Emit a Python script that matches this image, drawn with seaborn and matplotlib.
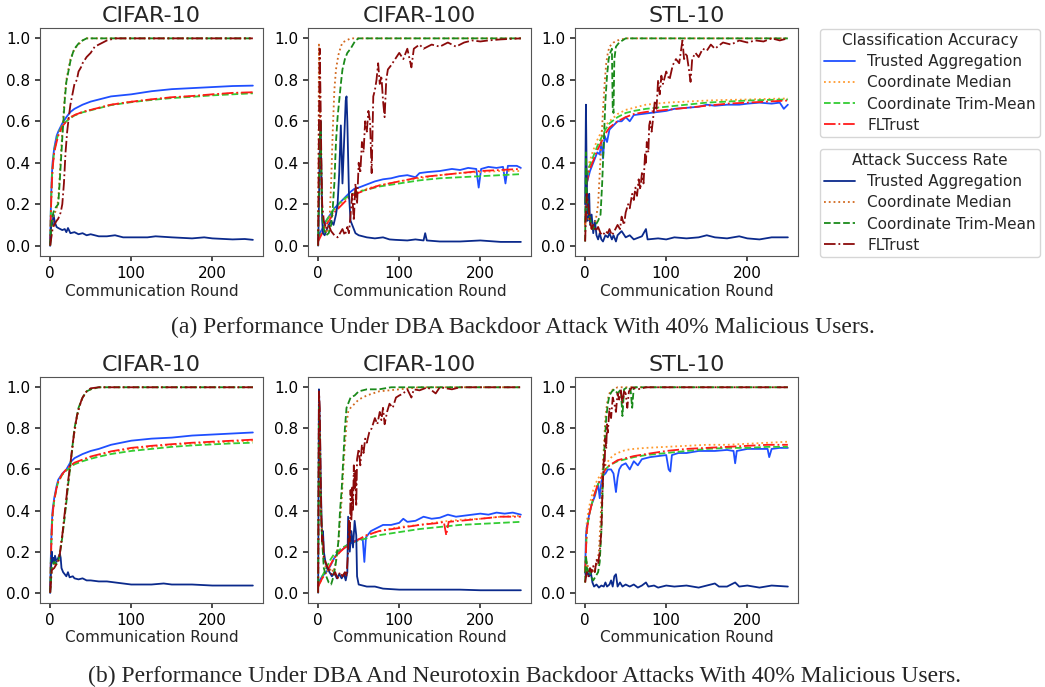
import matplotlib
matplotlib.use("Agg")
import matplotlib.pyplot as plt
from matplotlib.lines import Line2D
import seaborn as sns
import pandas as pd

# Values, as (communication round, value) pairs.
# acc_* = classification accuracy, asr_* = attack success rate
# ta = Trusted Aggregation, cm = Coordinate Median, ctm = Coordinate Trim-Mean, flt = FLTrust

# ---- (a) DBA backdoor attack ----
a_c10_acc_ta = [(0, 0.0), (1, 0.2), (2, 0.33), (3, 0.4), (5, 0.47), (8, 0.53), (10, 0.55), (15, 0.59), (20, 0.62),
                (25, 0.645), (30, 0.66), (40, 0.68), (50, 0.695), (60, 0.705), (75, 0.72), (100, 0.73), (125, 0.745),
                (150, 0.755), (175, 0.76), (200, 0.765), (225, 0.77), (250, 0.772)]
a_c10_acc_cm = [(0, 0.0), (1, 0.18), (2, 0.3), (3, 0.38), (5, 0.45), (8, 0.51), (10, 0.54), (15, 0.58), (20, 0.605),
                (25, 0.62), (30, 0.63), (40, 0.645), (50, 0.655), (60, 0.665), (75, 0.68), (100, 0.695), (125, 0.705),
                (150, 0.715), (175, 0.72), (200, 0.728), (225, 0.735), (250, 0.738)]
a_c10_acc_ctm = [(0, 0.0), (1, 0.19), (2, 0.31), (3, 0.38), (5, 0.46), (8, 0.51), (10, 0.54), (15, 0.58), (20, 0.6),
                 (25, 0.615), (30, 0.628), (40, 0.643), (50, 0.653), (60, 0.663), (75, 0.678), (100, 0.692), (125, 0.703),
                 (150, 0.712), (175, 0.718), (200, 0.725), (225, 0.73), (250, 0.735)]
a_c10_acc_flt = [(0, 0.0), (1, 0.17), (2, 0.29), (3, 0.37), (5, 0.45), (8, 0.5), (10, 0.53), (15, 0.575), (20, 0.6),
                 (25, 0.618), (30, 0.63), (40, 0.645), (50, 0.655), (60, 0.665), (75, 0.68), (100, 0.694), (125, 0.706),
                 (150, 0.716), (175, 0.722), (200, 0.73), (225, 0.737), (250, 0.74)]
a_c10_asr_ta = [(0, 0.0), (1, 0.08), (2, 0.12), (3, 0.1), (4, 0.15), (5, 0.13), (6, 0.11), (8, 0.09), (10, 0.085),
                (15, 0.075), (18, 0.08), (20, 0.065), (22, 0.085), (25, 0.06), (30, 0.065), (35, 0.055), (40, 0.06),
                (45, 0.05), (50, 0.055), (60, 0.045), (70, 0.045), (80, 0.05), (90, 0.04), (100, 0.04), (120, 0.04),
                (130, 0.045), (150, 0.04), (175, 0.035), (190, 0.04), (200, 0.035), (225, 0.03), (240, 0.032),
                (250, 0.028)]
a_c10_asr_cm = [(0, 0.0), (2, 0.1), (4, 0.14), (6, 0.16), (8, 0.18), (10, 0.22), (12, 0.35), (15, 0.55), (18, 0.72),
                (20, 0.8), (22, 0.84), (25, 0.9), (28, 0.93), (30, 0.95), (35, 0.97), (40, 0.99), (45, 1.0), (250, 1.0)]
a_c10_asr_ctm = [(0, 0.0), (2, 0.12), (4, 0.16), (6, 0.18), (8, 0.19), (10, 0.2), (12, 0.32), (15, 0.52), (18, 0.7),
                 (20, 0.79), (22, 0.83), (25, 0.89), (28, 0.93), (30, 0.95), (35, 0.975), (40, 0.99), (45, 1.0), (250, 1.0)]
a_c10_asr_flt = [(0, 0.0), (3, 0.08), (5, 0.1), (8, 0.12), (10, 0.13), (13, 0.16), (15, 0.2), (17, 0.3), (19, 0.45),
                 (21, 0.55), (23, 0.62), (25, 0.68), (28, 0.74), (30, 0.78), (33, 0.8), (35, 0.84), (38, 0.86), (40, 0.88),
                 (45, 0.91), (50, 0.93), (55, 0.96), (60, 0.97), (65, 0.98), (70, 0.99), (80, 1.0), (250, 1.0)]

a_c100_acc_ta = [(0, 0.03), (2, 0.06), (5, 0.08), (10, 0.12), (15, 0.15), (20, 0.18), (25, 0.2), (30, 0.22), (35, 0.24),
                 (40, 0.26), (45, 0.275), (50, 0.28), (60, 0.295), (70, 0.31), (80, 0.32), (90, 0.325), (100, 0.335),
                 (110, 0.34), (120, 0.33), (125, 0.35), (135, 0.355), (150, 0.36), (165, 0.37), (175, 0.365),
                 (185, 0.375), (195, 0.37), (198, 0.28), (201, 0.37), (210, 0.38), (220, 0.375), (228, 0.38),
                 (231, 0.3), (234, 0.385), (245, 0.385), (250, 0.375)]
a_c100_acc_cm = [(0, 0.03), (5, 0.07), (10, 0.11), (20, 0.17), (30, 0.21), (40, 0.24), (50, 0.26), (60, 0.275),
                 (75, 0.29), (100, 0.31), (125, 0.325), (150, 0.34), (175, 0.35), (200, 0.355), (225, 0.36), (250, 0.36)]
a_c100_acc_ctm = [(0, 0.03), (5, 0.07), (10, 0.12), (20, 0.18), (30, 0.22), (40, 0.245), (50, 0.26), (60, 0.27),
                  (75, 0.285), (100, 0.3), (125, 0.315), (150, 0.325), (175, 0.33), (200, 0.335), (225, 0.34),
                  (250, 0.345)]
a_c100_acc_flt = [(0, 0.02), (5, 0.06), (10, 0.1), (20, 0.16), (30, 0.2), (40, 0.24), (50, 0.255), (60, 0.27),
                  (75, 0.29), (100, 0.31), (125, 0.33), (150, 0.34), (175, 0.35), (200, 0.36), (225, 0.365), (250, 0.37)]
a_c100_asr_ta = [(0, 0.0), (1, 0.2), (2, 0.45), (3, 0.6), (4, 0.35), (5, 0.12), (6, 0.06), (8, 0.05), (10, 0.07),
                 (13, 0.1), (16, 0.12), (19, 0.1), (22, 0.15), (24, 0.2), (26, 0.35), (28, 0.58), (30, 0.3), (32, 0.5),
                 (34, 0.7), (35, 0.72), (36, 0.6), (38, 0.25), (40, 0.12), (43, 0.09), (46, 0.06), (50, 0.05),
                 (55, 0.045), (60, 0.04), (70, 0.035), (80, 0.04), (88, 0.03), (95, 0.028), (110, 0.025), (120, 0.03),
                 (130, 0.025), (132, 0.06), (134, 0.025), (150, 0.02), (175, 0.02), (200, 0.025), (225, 0.018),
                 (250, 0.018)]
a_c100_asr_cm = [(0, 0.0), (1, 0.97), (2, 0.75), (3, 0.4), (5, 0.15), (8, 0.08), (11, 0.06), (14, 0.12), (16, 0.3),
                 (18, 0.55), (20, 0.75), (22, 0.85), (25, 0.92), (28, 0.96), (30, 0.98), (35, 0.99), (40, 1.0),
                 (250, 1.0)]
a_c100_asr_ctm = [(0, 0.0), (1, 0.3), (2, 0.5), (3, 0.6), (4, 0.35), (5, 0.15), (7, 0.08), (10, 0.05), (13, 0.06),
                  (16, 0.1), (18, 0.18), (20, 0.3), (22, 0.5), (24, 0.62), (26, 0.7), (28, 0.78), (30, 0.85), (33, 0.9),
                  (36, 0.93), (40, 0.95), (43, 0.97), (46, 0.99), (50, 1.0), (250, 1.0)]
a_c100_asr_flt = [(0, 0.0), (1, 0.6), (2, 0.95), (3, 0.7), (4, 0.4), (5, 0.2), (7, 0.12), (10, 0.08), (13, 0.1),
                  (16, 0.07), (20, 0.05), (24, 0.04), (27, 0.06), (30, 0.08), (33, 0.05), (36, 0.09), (38, 0.06),
                  (40, 0.15), (42, 0.25), (44, 0.12), (46, 0.3), (48, 0.2), (50, 0.4), (52, 0.35), (54, 0.5), (56, 0.45),
                  (58, 0.6), (60, 0.55), (62, 0.65), (64, 0.6), (66, 0.35), (68, 0.72), (70, 0.75), (72, 0.8),
                  (74, 0.88), (76, 0.78), (78, 0.82), (80, 0.7), (82, 0.62), (84, 0.8), (86, 0.85), (90, 0.87),
                  (95, 0.9), (100, 0.93), (105, 0.9), (110, 0.95), (115, 0.86), (118, 0.95), (125, 0.97), (130, 0.95),
                  (140, 0.97), (150, 0.96), (160, 0.98), (170, 0.96), (180, 0.98), (190, 0.99), (200, 0.985),
                  (210, 0.99), (225, 0.995), (250, 1.0)]

a_stl_acc_ta = [(0, 0.1), (1, 0.25), (2, 0.3), (4, 0.33), (6, 0.36), (8, 0.38), (10, 0.4), (13, 0.43), (15, 0.45),
                (18, 0.44), (20, 0.5), (22, 0.42), (24, 0.53), (27, 0.5), (30, 0.56), (35, 0.58), (40, 0.6), (45, 0.6),
                (50, 0.62), (55, 0.6), (60, 0.63), (70, 0.635), (80, 0.64), (90, 0.645), (100, 0.65), (110, 0.66),
                (125, 0.665), (140, 0.67), (150, 0.68), (160, 0.675), (175, 0.68), (190, 0.68), (200, 0.685),
                (215, 0.69), (230, 0.685), (240, 0.69), (245, 0.66), (250, 0.68)]
a_stl_acc_cm = [(0, 0.1), (2, 0.33), (5, 0.4), (10, 0.46), (15, 0.51), (20, 0.55), (25, 0.58), (30, 0.6), (40, 0.635),
                (50, 0.655), (60, 0.665), (75, 0.68), (100, 0.69), (125, 0.695), (150, 0.7), (175, 0.703), (200, 0.705),
                (225, 0.708), (250, 0.71)]
a_stl_acc_ctm = [(0, 0.1), (2, 0.32), (5, 0.38), (10, 0.43), (15, 0.48), (20, 0.52), (25, 0.56), (30, 0.59), (40, 0.62),
                 (50, 0.64), (60, 0.65), (75, 0.66), (100, 0.67), (125, 0.68), (150, 0.69), (175, 0.695), (200, 0.7),
                 (225, 0.703), (250, 0.705)]
a_stl_acc_flt = [(0, 0.1), (2, 0.3), (5, 0.36), (10, 0.41), (15, 0.46), (20, 0.5), (25, 0.54), (30, 0.57), (40, 0.6),
                 (50, 0.62), (60, 0.635), (75, 0.645), (100, 0.655), (125, 0.665), (150, 0.675), (175, 0.685),
                 (200, 0.69), (225, 0.695), (250, 0.7)]
a_stl_asr_ta = [(0, 0.2), (1, 0.68), (2, 0.3), (3, 0.12), (4, 0.2), (5, 0.25), (6, 0.1), (8, 0.15), (10, 0.06),
                (12, 0.12), (14, 0.05), (16, 0.03), (18, 0.06), (20, 0.03), (22, 0.02), (25, 0.05), (28, 0.04),
                (30, 0.06), (33, 0.03), (35, 0.05), (38, 0.02), (40, 0.05), (45, 0.07), (50, 0.04), (55, 0.05),
                (60, 0.03), (70, 0.045), (75, 0.08), (77, 0.03), (90, 0.035), (100, 0.03), (110, 0.04), (125, 0.035),
                (140, 0.04), (150, 0.05), (160, 0.04), (175, 0.035), (190, 0.045), (200, 0.035), (215, 0.03),
                (230, 0.04), (250, 0.04)]
a_stl_asr_cm = [(0, 0.1), (2, 0.15), (5, 0.12), (8, 0.08), (10, 0.1), (13, 0.12), (16, 0.2), (18, 0.35), (20, 0.5),
                (22, 0.65), (24, 0.78), (26, 0.88), (28, 0.93), (30, 0.96), (35, 0.98), (40, 0.99), (50, 1.0), (250, 1.0)]
a_stl_asr_ctm = [(0, 0.02), (1, 0.45), (2, 0.25), (3, 0.2), (5, 0.15), (8, 0.1), (10, 0.08), (13, 0.1), (16, 0.12),
                 (19, 0.15), (21, 0.3), (23, 0.5), (25, 0.7), (27, 0.82), (29, 0.9), (31, 0.93), (33, 0.95), (34, 0.66),
                 (35, 0.64), (36, 0.9), (38, 0.96), (42, 0.98), (46, 0.99), (50, 1.0), (250, 1.0)]
a_stl_asr_flt = [(0, 0.02), (1, 0.15), (2, 0.25), (4, 0.2), (6, 0.12), (8, 0.08), (10, 0.1), (13, 0.07), (16, 0.09),
                 (19, 0.06), (22, 0.05), (25, 0.07), (28, 0.06), (30, 0.08), (33, 0.05), (36, 0.07), (40, 0.1),
                 (43, 0.08), (45, 0.14), (48, 0.1), (50, 0.16), (53, 0.2), (55, 0.18), (58, 0.25), (60, 0.22),
                 (62, 0.28), (64, 0.24), (66, 0.32), (68, 0.27), (70, 0.35), (72, 0.3), (74, 0.45), (75, 0.4),
                 (76, 0.5), (78, 0.45), (79, 0.58), (80, 0.6), (82, 0.55), (84, 0.62), (86, 0.7), (88, 0.66),
                 (90, 0.8), (92, 0.73), (94, 0.82), (96, 0.78), (100, 0.84), (104, 0.8), (108, 0.87), (112, 0.9),
                 (116, 0.88), (120, 0.99), (122, 0.9), (125, 0.93), (128, 0.85), (130, 0.79), (132, 0.9), (136, 0.93),
                 (140, 0.91), (145, 0.95), (150, 0.94), (155, 0.97), (160, 0.95), (170, 0.98), (180, 0.97),
                 (190, 0.99), (200, 0.98), (210, 0.99), (220, 0.985), (230, 1.0), (240, 0.99), (250, 1.0)]

# ---- (b) DBA + Neurotoxin backdoor attacks ----
b_c10_acc_ta = [(0, 0.0), (1, 0.2), (2, 0.33), (3, 0.4), (5, 0.46), (8, 0.52), (10, 0.55), (15, 0.58), (20, 0.6),
                (25, 0.635), (30, 0.655), (40, 0.675), (50, 0.69), (60, 0.7), (75, 0.72), (100, 0.74), (125, 0.75),
                (150, 0.755), (175, 0.765), (200, 0.77), (225, 0.775), (250, 0.78)]
b_c10_acc_cm = [(0, 0.0), (1, 0.18), (2, 0.3), (3, 0.38), (5, 0.45), (8, 0.51), (10, 0.54), (15, 0.575), (20, 0.6),
                (25, 0.615), (30, 0.63), (40, 0.645), (50, 0.66), (60, 0.67), (75, 0.685), (100, 0.7), (125, 0.71),
                (150, 0.72), (175, 0.725), (200, 0.73), (225, 0.735), (250, 0.74)]
b_c10_acc_ctm = [(0, 0.0), (1, 0.19), (2, 0.31), (3, 0.38), (5, 0.45), (8, 0.51), (10, 0.54), (15, 0.575), (20, 0.595),
                 (25, 0.61), (30, 0.625), (40, 0.64), (50, 0.652), (60, 0.662), (75, 0.675), (100, 0.69), (125, 0.7),
                 (150, 0.71), (175, 0.717), (200, 0.722), (225, 0.727), (250, 0.73)]
b_c10_acc_flt = [(0, 0.0), (1, 0.17), (2, 0.3), (3, 0.38), (5, 0.45), (8, 0.51), (10, 0.54), (15, 0.578), (20, 0.6),
                 (25, 0.618), (30, 0.633), (40, 0.648), (50, 0.663), (60, 0.673), (75, 0.688), (100, 0.705),
                 (125, 0.715), (150, 0.723), (175, 0.73), (200, 0.735), (225, 0.74), (250, 0.745)]
b_c10_asr_ta = [(0, 0.0), (1, 0.1), (2, 0.2), (3, 0.15), (4, 0.17), (5, 0.14), (6, 0.18), (8, 0.15), (10, 0.17),
                (12, 0.19), (13, 0.17), (14, 0.12), (16, 0.1), (18, 0.09), (20, 0.08), (22, 0.1), (24, 0.075),
                (28, 0.08), (30, 0.07), (35, 0.065), (40, 0.07), (45, 0.06), (50, 0.06), (60, 0.055), (70, 0.055),
                (80, 0.05), (90, 0.045), (100, 0.04), (125, 0.04), (140, 0.045), (150, 0.04), (175, 0.04),
                (200, 0.035), (225, 0.035), (250, 0.035)]
b_c10_asr_cm = [(0, 0.0), (2, 0.12), (5, 0.13), (8, 0.15), (10, 0.16), (12, 0.2), (15, 0.28), (18, 0.38), (20, 0.45),
                (22, 0.52), (25, 0.62), (28, 0.72), (30, 0.78), (33, 0.85), (35, 0.89), (38, 0.93), (40, 0.95),
                (45, 0.98), (50, 0.99), (60, 1.0), (250, 1.0)]
b_c10_asr_ctm = [(0, 0.0), (2, 0.13), (5, 0.15), (8, 0.14), (10, 0.15), (12, 0.19), (15, 0.27), (18, 0.37),
                 (20, 0.44), (22, 0.52), (25, 0.62), (28, 0.73), (30, 0.8), (33, 0.86), (35, 0.9), (38, 0.93),
                 (40, 0.95), (45, 0.98), (50, 0.99), (60, 1.0), (250, 1.0)]
b_c10_asr_flt = [(0, 0.0), (2, 0.11), (5, 0.12), (8, 0.14), (10, 0.15), (12, 0.19), (15, 0.28), (18, 0.39),
                 (20, 0.46), (22, 0.54), (25, 0.63), (28, 0.73), (30, 0.79), (33, 0.86), (35, 0.89), (38, 0.93),
                 (40, 0.95), (45, 0.98), (50, 0.995), (60, 1.0), (250, 1.0)]

b_c100_acc_ta = [(0, 0.05), (2, 0.06), (5, 0.08), (10, 0.1), (15, 0.13), (20, 0.17), (25, 0.2), (30, 0.21), (35, 0.23),
                 (40, 0.24), (45, 0.25), (50, 0.26), (55, 0.26), (57, 0.15), (59, 0.27), (65, 0.3), (70, 0.31),
                 (75, 0.32), (80, 0.33), (90, 0.33), (100, 0.34), (105, 0.36), (110, 0.345), (120, 0.35), (130, 0.37),
                 (140, 0.36), (150, 0.365), (160, 0.38), (170, 0.37), (180, 0.375), (190, 0.38), (200, 0.385),
                 (210, 0.38), (220, 0.39), (230, 0.385), (240, 0.39), (250, 0.38)]
b_c100_acc_cm = [(0, 0.03), (5, 0.07), (10, 0.1), (20, 0.17), (30, 0.21), (40, 0.24), (50, 0.26), (60, 0.28), (75, 0.3),
                 (100, 0.32), (125, 0.33), (150, 0.345), (175, 0.355), (200, 0.36), (225, 0.37), (250, 0.375)]
b_c100_acc_ctm = [(0, 0.03), (5, 0.08), (10, 0.12), (15, 0.16), (20, 0.19), (30, 0.22), (40, 0.24), (50, 0.255),
                  (60, 0.265), (75, 0.28), (100, 0.295), (125, 0.31), (150, 0.32), (175, 0.33), (200, 0.335),
                  (225, 0.34), (250, 0.345)]
b_c100_acc_flt = [(0, 0.03), (5, 0.07), (10, 0.1), (20, 0.17), (30, 0.21), (40, 0.24), (50, 0.26), (60, 0.28),
                  (75, 0.3), (100, 0.315), (125, 0.33), (150, 0.34), (155, 0.345), (158, 0.28), (161, 0.345),
                  (175, 0.35), (200, 0.36), (225, 0.37), (250, 0.37)]
b_c100_asr_ta = [(0, 0.0), (1, 0.99), (2, 0.85), (3, 0.6), (4, 0.4), (5, 0.25), (6, 0.3), (7, 0.2), (9, 0.15),
                 (11, 0.12), (14, 0.1), (17, 0.08), (20, 0.1), (23, 0.07), (26, 0.09), (29, 0.07), (32, 0.09),
                 (34, 0.06), (36, 0.1), (37, 0.37), (39, 0.2), (41, 0.3), (43, 0.22), (45, 0.35), (47, 0.28),
                 (48, 0.08), (50, 0.04), (55, 0.035), (60, 0.03), (70, 0.03), (80, 0.02), (100, 0.015), (125, 0.015),
                 (150, 0.015), (175, 0.015), (200, 0.012), (225, 0.012), (250, 0.012)]
b_c100_asr_cm = [(0, 0.0), (1, 0.95), (2, 0.8), (3, 0.5), (5, 0.25), (7, 0.15), (10, 0.12), (13, 0.1), (16, 0.12),
                 (19, 0.1), (22, 0.15), (25, 0.25), (27, 0.35), (29, 0.45), (31, 0.6), (33, 0.72), (35, 0.82),
                 (37, 0.88), (40, 0.9), (45, 0.92), (50, 0.94), (60, 0.96), (75, 0.98), (100, 0.99), (125, 1.0),
                 (250, 1.0)]
b_c100_asr_ctm = [(0, 0.0), (1, 0.9), (2, 0.7), (3, 0.45), (5, 0.25), (7, 0.12), (10, 0.08), (13, 0.05), (16, 0.04),
                  (19, 0.08), (22, 0.15), (25, 0.25), (27, 0.4), (29, 0.5), (31, 0.65), (33, 0.8), (35, 0.9),
                  (38, 0.93), (40, 0.95), (45, 0.96), (50, 0.98), (60, 0.99), (75, 0.99), (90, 1.0), (250, 1.0)]
b_c100_asr_flt = [(0, 0.0), (1, 0.98), (2, 0.9), (3, 0.6), (4, 0.35), (5, 0.25), (6, 0.28), (7, 0.18), (9, 0.15),
                  (12, 0.12), (15, 0.1), (18, 0.08), (21, 0.1), (24, 0.07), (27, 0.1), (30, 0.08), (33, 0.1),
                  (35, 0.08), (37, 0.2), (38, 0.35), (39, 0.25), (40, 0.5), (41, 0.35), (42, 0.52), (43, 0.4),
                  (44, 0.62), (45, 0.5), (46, 0.6), (47, 0.42), (48, 0.65), (50, 0.7), (52, 0.62), (54, 0.72),
                  (56, 0.68), (58, 0.75), (60, 0.73), (63, 0.78), (66, 0.8), (70, 0.85), (73, 0.82), (76, 0.88),
                  (78, 0.84), (80, 0.9), (82, 0.82), (85, 0.88), (88, 0.92), (92, 0.9), (96, 0.95), (100, 0.96),
                  (105, 0.97), (110, 0.99), (115, 0.95), (118, 0.99), (125, 0.985), (135, 1.0), (145, 0.97),
                  (150, 1.0), (165, 0.99), (175, 1.0), (200, 1.0), (250, 1.0)]

b_stl_acc_ta = [(0, 0.1), (1, 0.28), (2, 0.32), (4, 0.36), (6, 0.4), (8, 0.43), (10, 0.45), (12, 0.47), (14, 0.5),
                (16, 0.53), (18, 0.46), (20, 0.54), (22, 0.57), (25, 0.58), (28, 0.6), (32, 0.6), (35, 0.58),
                (37, 0.52), (38, 0.49), (40, 0.56), (42, 0.6), (45, 0.62), (50, 0.63), (55, 0.6), (60, 0.64),
                (65, 0.62), (70, 0.65), (80, 0.66), (90, 0.665), (100, 0.67), (103, 0.6), (105, 0.59), (107, 0.67),
                (115, 0.68), (125, 0.68), (140, 0.69), (150, 0.69), (160, 0.69), (175, 0.695), (183, 0.69),
                (185, 0.63), (187, 0.69), (200, 0.7), (215, 0.7), (225, 0.7), (227, 0.66), (230, 0.7), (240, 0.705),
                (250, 0.705)]
b_stl_acc_cm = [(0, 0.1), (2, 0.35), (5, 0.42), (10, 0.5), (15, 0.55), (20, 0.58), (25, 0.62), (30, 0.65), (35, 0.67),
                (40, 0.68), (50, 0.695), (60, 0.7), (75, 0.705), (100, 0.71), (125, 0.715), (150, 0.72), (175, 0.72),
                (200, 0.725), (225, 0.73), (250, 0.735)]
b_stl_acc_ctm = [(0, 0.1), (2, 0.3), (5, 0.38), (10, 0.46), (15, 0.52), (20, 0.56), (25, 0.6), (30, 0.62), (40, 0.64),
                 (50, 0.65), (60, 0.66), (75, 0.67), (100, 0.68), (125, 0.69), (150, 0.7), (175, 0.705), (200, 0.705),
                 (225, 0.71), (250, 0.71)]
b_stl_acc_flt = [(0, 0.1), (2, 0.3), (5, 0.38), (10, 0.46), (15, 0.52), (20, 0.56), (25, 0.6), (30, 0.62), (40, 0.645),
                 (50, 0.655), (60, 0.665), (75, 0.675), (100, 0.69), (125, 0.7), (150, 0.705), (175, 0.71),
                 (200, 0.715), (225, 0.72), (250, 0.72)]
b_stl_asr_ta = [(0, 0.1), (1, 0.08), (3, 0.1), (5, 0.08), (7, 0.1), (9, 0.05), (11, 0.03), (14, 0.04), (17, 0.025),
                (20, 0.035), (23, 0.03), (25, 0.05), (27, 0.03), (30, 0.04), (32, 0.06), (34, 0.03), (36, 0.08),
                (38, 0.09), (40, 0.03), (43, 0.05), (46, 0.03), (50, 0.04), (55, 0.03), (60, 0.04), (65, 0.025),
                (70, 0.035), (75, 0.05), (78, 0.03), (85, 0.035), (90, 0.025), (100, 0.035), (110, 0.03),
                (125, 0.035), (140, 0.025), (160, 0.045), (165, 0.03), (175, 0.03), (185, 0.05), (190, 0.03),
                (200, 0.035), (215, 0.025), (230, 0.035), (250, 0.03)]
b_stl_asr_cm = [(0, 0.05), (2, 0.15), (5, 0.1), (8, 0.12), (10, 0.1), (13, 0.12), (15, 0.15), (17, 0.2), (19, 0.35),
                (21, 0.55), (23, 0.7), (25, 0.85), (27, 0.92), (29, 0.96), (31, 0.98), (35, 0.99), (40, 1.0), (250, 1.0)]
b_stl_asr_ctm = [(0, 0.05), (1, 0.18), (3, 0.1), (5, 0.12), (7, 0.08), (10, 0.06), (13, 0.08), (16, 0.1), (18, 0.15),
                 (20, 0.3), (22, 0.55), (24, 0.72), (26, 0.85), (28, 0.92), (30, 0.96), (33, 0.98), (36, 0.99),
                 (40, 0.97), (44, 0.99), (46, 0.86), (48, 0.99), (52, 1.0), (56, 0.99), (58, 0.9), (60, 1.0), (250, 1.0)]
b_stl_asr_flt = [(0, 0.05), (2, 0.1), (4, 0.08), (6, 0.12), (8, 0.1), (10, 0.13), (12, 0.1), (14, 0.16), (16, 0.14),
                 (18, 0.2), (20, 0.3), (21, 0.45), (22, 0.55), (23, 0.65), (24, 0.62), (25, 0.75), (26, 0.7),
                 (27, 0.82), (28, 0.78), (30, 0.9), (32, 0.85), (34, 0.95), (36, 0.92), (38, 0.88), (40, 0.97),
                 (42, 0.94), (44, 0.99), (46, 0.92), (48, 0.98), (50, 0.97), (52, 0.9), (54, 0.98), (58, 1.0),
                 (65, 0.99), (75, 1.0), (250, 1.0)]

titles = ["CIFAR-10", "CIFAR-100", "STL-10"]
methods = ["Trusted Aggregation", "Coordinate Median", "Coordinate Trim-Mean", "FLTrust"]
acc_colors = ["#1f4fff", "#ff9a2e", "#33cc33", "#ff1a1a"]
asr_colors = ["#0b2a8c", "#d2691e", "#1a8a1a", "#8b0a0a"]
styles = ["-", ":", "--", "-."]

panels_a = [
    [a_c10_acc_ta, a_c10_acc_cm, a_c10_acc_ctm, a_c10_acc_flt, a_c10_asr_ta, a_c10_asr_cm, a_c10_asr_ctm, a_c10_asr_flt],
    [a_c100_acc_ta, a_c100_acc_cm, a_c100_acc_ctm, a_c100_acc_flt, a_c100_asr_ta, a_c100_asr_cm, a_c100_asr_ctm, a_c100_asr_flt],
    [a_stl_acc_ta, a_stl_acc_cm, a_stl_acc_ctm, a_stl_acc_flt, a_stl_asr_ta, a_stl_asr_cm, a_stl_asr_ctm, a_stl_asr_flt],
]
panels_b = [
    [b_c10_acc_ta, b_c10_acc_cm, b_c10_acc_ctm, b_c10_acc_flt, b_c10_asr_ta, b_c10_asr_cm, b_c10_asr_ctm, b_c10_asr_flt],
    [b_c100_acc_ta, b_c100_acc_cm, b_c100_acc_ctm, b_c100_acc_flt, b_c100_asr_ta, b_c100_asr_cm, b_c100_asr_ctm, b_c100_asr_flt],
    [b_stl_acc_ta, b_stl_acc_cm, b_stl_acc_ctm, b_stl_acc_flt, b_stl_asr_ta, b_stl_asr_cm, b_stl_asr_ctm, b_stl_asr_flt],
]

sns.set_theme(style="ticks", rc={
    "axes.edgecolor": "#555555",
    "axes.linewidth": 0.8,
    "xtick.color": "#333333",
    "ytick.color": "#333333",
    "xtick.labelcolor": "black",
    "ytick.labelcolor": "black",
    "xtick.labelsize": 11,
    "ytick.labelsize": 11,
    "xtick.major.size": 3.5,
    "ytick.major.size": 3.5,
})
plt.rcParams["font.family"] = ["DejaVu Sans"]

W, H = 1045, 687
fig = plt.figure(figsize=(W / 100, H / 100), dpi=100)

lefts = [40, 308, 575]
rows = [(28, 256), (377, 603)]


def draw_panel(ax, series, title):
    for i, pts in enumerate(series):
        df = pd.DataFrame(pts, columns=["round", "value"])
        color = acc_colors[i] if i < 4 else asr_colors[i - 4]
        sns.lineplot(data=df, x="round", y="value", ax=ax, color=color,
                     linestyle=styles[i % 4], linewidth=1.3)
    ax.set_title(title, fontsize=16, pad=4)
    ax.set_xlabel("Communication Round", fontsize=11, labelpad=2)
    ax.set_ylabel("")
    ax.set_xlim(-12.5, 262.5)
    ax.set_ylim(-0.05, 1.05)
    ax.set_xticks([0, 100, 200])
    ax.set_yticks([0.0, 0.2, 0.4, 0.6, 0.8, 1.0])
    ax.set_yticklabels(["0.0", "0.2", "0.4", "0.6", "0.8", "1.0"])


for (top, bottom), panels in zip(rows, [panels_a, panels_b]):
    for left, series, title in zip(lefts, panels, titles):
        ax = fig.add_axes([left / W, 1 - bottom / H, 223 / W, (bottom - top) / H])
        draw_panel(ax, series, title)

# two legends at the right of the top row
acc_handles = [Line2D([], [], color=c, linestyle=s, linewidth=1.3) for c, s in zip(acc_colors, styles)]
asr_handles = [Line2D([], [], color=c, linestyle=s, linewidth=1.3) for c, s in zip(asr_colors, styles)]
leg_kw = dict(loc="upper left", fontsize=11, title_fontsize=11, labelspacing=0.4,
              handlelength=2.0, borderpad=0.3, frameon=True, fancybox=True)
fig.legend(acc_handles, methods, title="Classification Accuracy",
           bbox_to_anchor=(812 / W, 1 - 21 / H), **leg_kw)
fig.legend(asr_handles, methods, title="Attack Success Rate",
           bbox_to_anchor=(812 / W, 1 - 141 / H), **leg_kw)

fig.text(523 / W, 1 - 327 / H, "(a) Performance Under DBA Backdoor Attack With 40% Malicious Users.",
         ha="center", va="center", fontsize=17, family="Liberation Serif")
fig.text(525 / W, 1 - 676 / H, "(b) Performance Under DBA And Neurotoxin Backdoor Attacks With 40% Malicious Users.",
         ha="center", va="center", fontsize=17, family="Liberation Serif")

fig.savefig("out.png", dpi=100)
